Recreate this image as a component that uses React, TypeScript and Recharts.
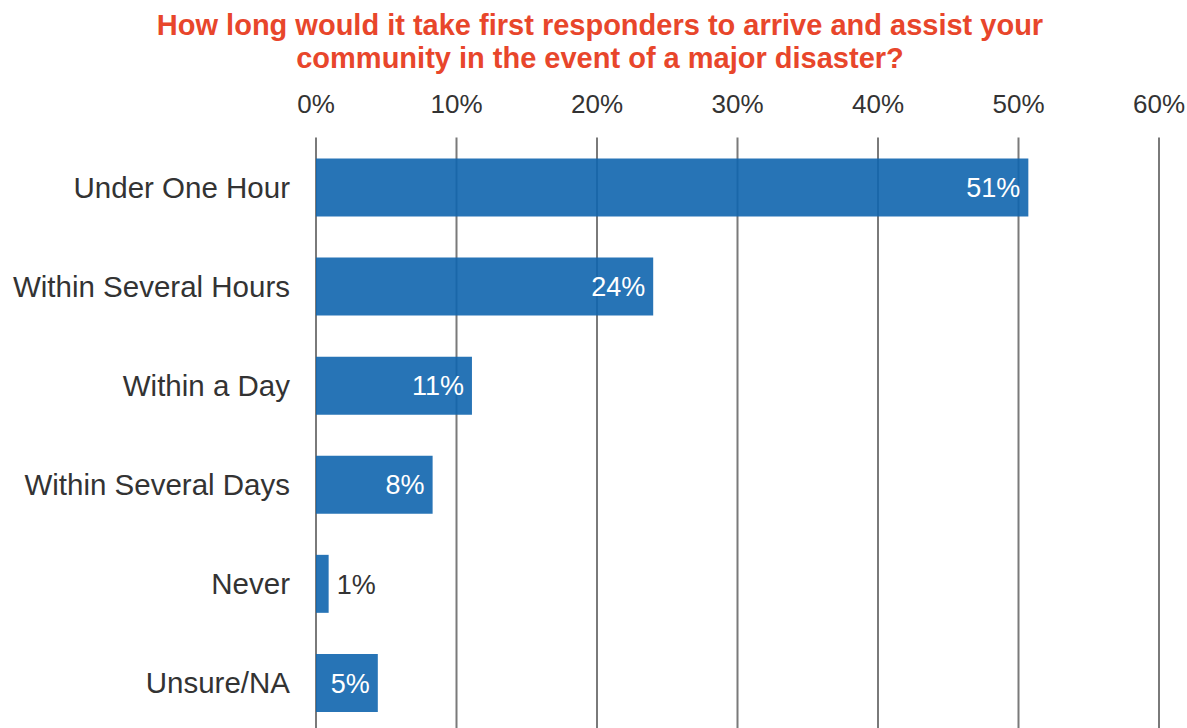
import React from "react";
import { BarChart, Bar, XAxis, YAxis, CartesianGrid, LabelList } from "recharts";

const categories = [
  "Under One Hour",
  "Within Several Hours",
  "Within a Day",
  "Within Several Days",
  "Never",
  "Unsure/NA",
];
const values = [50.7, 24.0, 11.1, 8.3, 0.9, 4.4];
const valueLabels = ["51%", "24%", "11%", "8%", "1%", "5%"];
const xTicks = [0, 10, 20, 30, 40, 50, 60];

const data = categories.map((c, i) => ({ name: c, value: values[i], label: valueLabels[i] }));

const TITLE_COLOR = "#e8462b";
const TEXT_COLOR = "#333333";
const FONT = "'Liberation Sans', Arial, sans-serif";

const renderLabel = (props: any) => {
  const { x, y, width, height, index } = props;
  const text = valueLabels[index];
  const cy = y + height / 2;
  if (width < 40) {
    return (
      <text x={x + width + 8} y={cy} dy="0.36em" textAnchor="start" fill={TEXT_COLOR}
        style={{ fontFamily: FONT, fontSize: 27 }}>
        {text}
      </text>
    );
  }
  return (
    <text x={x + width - 8} y={cy} dy="0.36em" textAnchor="end" fill="#ffffff"
      style={{ fontFamily: FONT, fontSize: 27 }}>
      {text}
    </text>
  );
};

export default function App() {
  return (
    <div style={{ position: "absolute", left: 0, top: 0, width: 1187, height: 728, overflow: "hidden", background: "#fff" }}>
      <div
        style={{
          position: "absolute",
          left: 0,
          top: 9,
          width: 1200,
          textAlign: "center",
          color: TITLE_COLOR,
          fontFamily: FONT,
          fontWeight: 700,
          fontSize: 29,
          lineHeight: "33px",
        }}
      >
        How long would it take first responders to arrive and assist your
        <br />
        community in the event of a major disaster?
      </div>
      <div style={{ position: "absolute", left: 0, top: 0 }}>
        <BarChart
          width={1187}
          height={732}
          data={data}
          layout="vertical"
          margin={{ top: 107.5, right: 28, bottom: 0, left: 0 }}
          barSize={58}
        >
          <CartesianGrid horizontal={false} vertical={true} stroke="#7a7a7a" strokeWidth={2} />
          <XAxis
            type="number"
            orientation="top"
            domain={[0, 60]}
            ticks={xTicks}
            tickFormatter={(v: number) => `${v}%`}
            axisLine={false}
            tickLine={false}
            tickSize={6}
            tickMargin={19}
            height={30}
            interval={0}
            tick={{ fill: TEXT_COLOR, fontSize: 26, fontFamily: FONT }}
          />
          <YAxis
            type="category"
            dataKey="name"
            width={316}
            axisLine={false}
            tickLine={false}
            tickSize={6}
            tickMargin={20}
            interval={0}
            tick={{ fill: TEXT_COLOR, fontSize: 29.5, fontFamily: FONT }}
          />
          <Bar dataKey="value" fill="#0f65ae" fillOpacity={0.9} isAnimationActive={false}>
            <LabelList dataKey="label" content={renderLabel} />
          </Bar>
        </BarChart>
      </div>
    </div>
  );
}
